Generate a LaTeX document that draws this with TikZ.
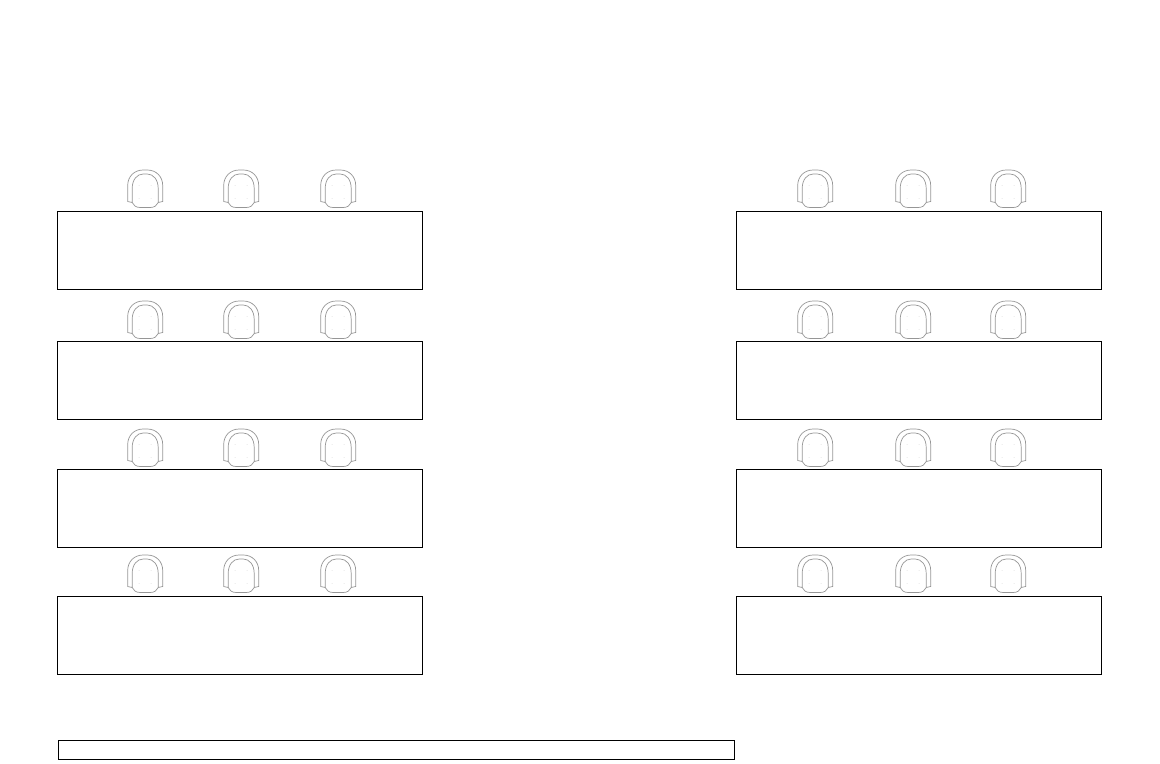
\documentclass[tikz,border=0pt]{standalone}
\usepackage{xcolor}
\usetikzlibrary{positioning}
\definecolor{seatgray}{RGB}{150,150,150}
\definecolor{tufgray}{RGB}{225,225,225}

\begin{document}
\begin{tikzpicture}[
  x=0.02cm, y=-0.02cm,
  desk/.style={draw=black, line width=0.5pt, minimum width=7.3cm, minimum height=1.56cm, inner sep=0pt, outer sep=0pt},
  seat/.pic={
    \draw[seatgray, line width=0.4pt]
      (-17.5,13) -- (-17.5,-3) .. controls (-17.5,-12) and (-11,-18.5) .. (-2,-18.5) -- (2,-18.5)
      .. controls (11,-18.5) and (17.5,-12) .. (17.5,-3) -- (17.5,13) -- (13,14) -- (13,0)
      .. controls (13,-9) and (8,-14.5) .. (2,-14.5) -- (-2,-14.5)
      .. controls (-8,-14.5) and (-13,-9) .. (-13,0) -- (-13,14) -- cycle;
    \draw[seatgray, line width=0.4pt]
      (-13,14) .. controls (-12,17) and (-9,19) .. (-5,19) -- (5,19)
      .. controls (9,19) and (12,17) .. (13,14);
    \foreach \tx/\ty in {-6/-3, 6/-3, -6/10, 6/10}
      \fill[tufgray] (\tx,\ty) circle (0.5);
  }
]
\useasboundingbox (0,0) rectangle (1160,764);

% Left desks
\node[desk] (deskLa) at (240,250.5) {};
\node[desk] (deskLb) at (240,380.5) {};
\node[desk] (deskLc) at (240,508.5) {};
\node[desk] (deskLd) at (240,635.5) {};

% Right desks
\node[desk] (deskRa) at (919,250.5) {};
\node[desk] (deskRb) at (919,380.5) {};
\node[desk] (deskRc) at (919,508.5) {};
\node[desk] (deskRd) at (919,635.5) {};

% Seats
\foreach \sy in {188.5,319.5,447.5,573.5} {
  \foreach \sx in {145.2,241.2,338.2,815.2,913.2,1008.2}
    \pic at (\sx,\sy) {seat};
}

% Front bench
\node[desk, minimum width=13.52cm, minimum height=0.38cm] (bench) at (396.5,750) {};

\end{tikzpicture}
\end{document}
